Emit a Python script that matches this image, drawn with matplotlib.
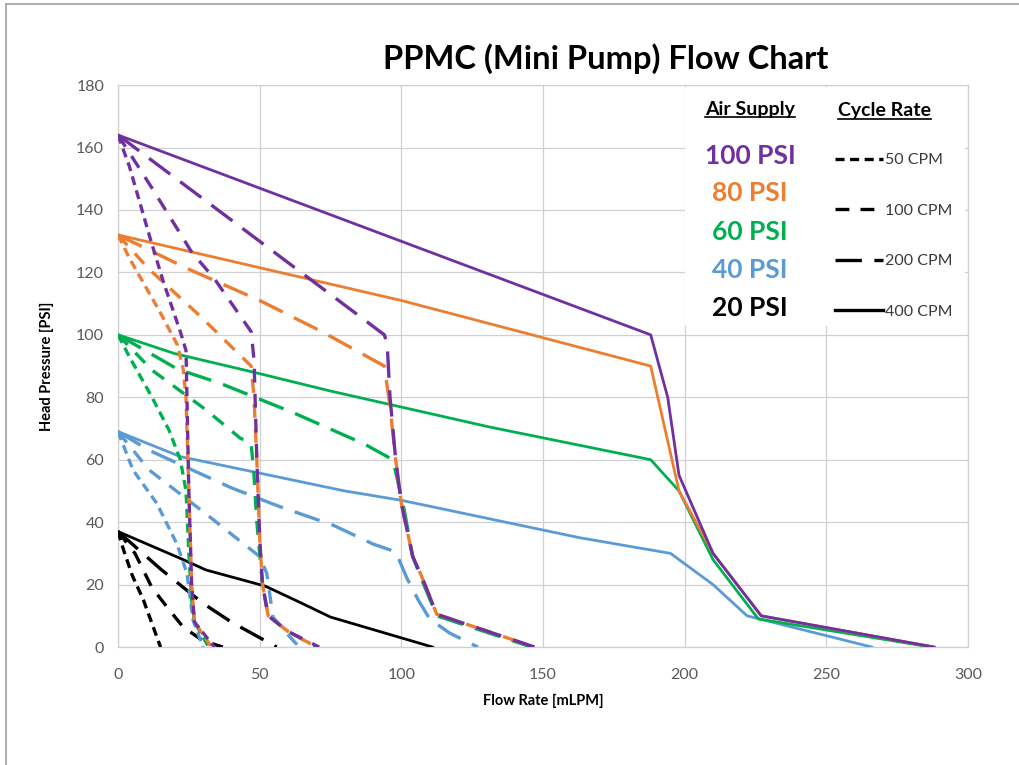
import matplotlib
matplotlib.use("Agg")
import matplotlib.pyplot as plt
from matplotlib.lines import Line2D
from matplotlib.patches import Rectangle

plt.rcParams['font.family'] = ['Lato', 'DejaVu Sans']
plt.rcParams['lines.scale_dashes'] = False

# ---- data (flow mLPM, head PSI) ----
# 100 PSI
p100_50_x = [0, 4, 11, 16, 22, 24, 25, 26, 27, 34]
p100_50_y = [164, 154, 132, 117, 101, 95, 50, 20, 8, 0]
p100_100_x = [0, 12, 26, 34, 47, 48, 49, 50, 51, 53, 60, 71]
p100_100_y = [164, 147, 126.5, 118, 101, 92, 60, 35, 20, 10, 5, 0]
p100_200_x = [0, 94, 95, 96, 98, 100, 104, 107, 112.5, 147]
p100_200_y = [164, 100, 97, 80, 60, 46, 29, 23, 10.5, 0]
p100_400_x = [0, 188, 194, 198, 210, 227, 288]
p100_400_y = [164, 100, 80, 55, 30, 10, 0]

# 80 PSI
p80_50_x = [0, 4, 15, 21, 23, 24, 25, 26, 27, 33]
p80_50_y = [132, 124.6, 107, 96.7, 89, 80, 50, 20, 8, 0]
p80_100_x = [0, 11, 29, 47, 48, 49, 50, 51, 53, 60, 70]
p80_100_y = [132, 121, 106, 90, 80, 60, 35, 20, 10, 5, 0]
p80_200_x = [0, 25, 50, 72, 94, 96, 98, 100, 104, 107, 112.5, 147]
p80_200_y = [132, 121, 111, 101, 90, 77, 60, 46, 29, 23, 10.5, 0]
p80_400_x = [0, 100, 188, 198, 210, 227, 288]
p80_400_y = [132, 111, 90, 50, 30, 10, 0]

# 60 PSI
p60_50_x = [0, 4, 12, 18, 22, 24, 25, 26, 27, 32]
p60_50_y = [100, 93, 80, 69.5, 60, 50, 30, 15, 8, 0]
p60_100_x = [0, 12, 31, 43, 47, 48, 49, 50, 51, 53, 60, 70]
p60_100_y = [100, 88.7, 76, 67, 65, 55, 40, 30, 20, 10, 5, 0]
p60_200_x = [0, 21, 36, 62, 87, 97, 99, 101, 104, 107, 112.5, 146]
p60_200_y = [100, 89, 84.5, 75, 65, 60, 52, 44, 29, 22, 10, 0]
p60_400_x = [0, 20, 48, 75, 131, 188, 198, 210, 226, 287]
p60_400_y = [100, 94, 88, 82, 70.5, 60, 50, 28, 9, 0]

# 40 PSI
p40_50_x = [0, 5.3, 13.7, 20.8, 24.3, 26.5, 30]
p40_50_y = [69, 56.7, 46, 33, 23.7, 8.6, 0]
p40_100_x = [0, 11, 22, 32.5, 43, 50, 52.5, 54.7, 60.7, 64]
p40_100_y = [69, 56.7, 49, 41.6, 34, 29, 23.6, 9.6, 3.2, 0]
p40_200_x = [0, 11, 40, 57, 76, 90, 98, 102, 106, 110, 117, 127]
p40_200_y = [69, 63, 51, 45, 39, 33, 30.5, 22, 15, 9, 4.5, 0]
p40_400_x = [0, 22, 50, 80, 100, 163, 195, 210, 222, 266]
p40_400_y = [69, 61, 55.7, 50, 47, 35, 30, 20, 10, 0]

# 20 PSI
p20_50_x = [0, 2, 5, 9, 15]
p20_50_y = [37, 31, 23, 15, 0]
p20_100_x = [0, 6, 12, 18, 23, 30, 37]
p20_100_y = [37, 30, 19, 12, 6.4, 2, 0]
p20_200_x = [0, 15, 30, 40, 56]
p20_200_y = [37, 25, 14, 8, 0]
p20_400_x = [0, 23, 31, 52, 64, 75, 111]
p20_400_y = [37, 28, 24.7, 19.5, 14.4, 9.6, 0]

pressures = ['20 PSI', '40 PSI', '60 PSI', '80 PSI', '100 PSI']
colors = ['#000000', '#5B9BD5', '#00B050', '#ED7D31', '#7030A0']
rates = ['50 CPM', '100 CPM', '200 CPM', '400 CPM']

curves = [
    [(p20_50_x, p20_50_y), (p20_100_x, p20_100_y), (p20_200_x, p20_200_y), (p20_400_x, p20_400_y)],
    [(p40_50_x, p40_50_y), (p40_100_x, p40_100_y), (p40_200_x, p40_200_y), (p40_400_x, p40_400_y)],
    [(p60_50_x, p60_50_y), (p60_100_x, p60_100_y), (p60_200_x, p60_200_y), (p60_400_x, p60_400_y)],
    [(p80_50_x, p80_50_y), (p80_100_x, p80_100_y), (p80_200_x, p80_200_y), (p80_400_x, p80_400_y)],
    [(p100_50_x, p100_50_y), (p100_100_x, p100_100_y), (p100_200_x, p100_200_y), (p100_400_x, p100_400_y)],
]

# line style per cycle rate (dash on/off in points)
styles = [(0, (6.5, 4)), (0, (10, 8)), (0, (19, 9)), '-']
widths = [2.4, 2.4, 2.4, 2.0]

fig = plt.figure(figsize=(10.19, 7.65), dpi=100)
ax = fig.add_axes([0.1158, 0.1542, 0.8342, 0.7346])

for color, group in zip(colors, curves):
    for (x, y), ls, lw in zip(group, styles, widths):
        ax.plot(x, y, color=color, linestyle=ls, linewidth=lw, zorder=3)

ax.set_xlim(0, 300)
ax.set_ylim(0, 180)
ax.set_xticks(range(0, 301, 50))
ax.set_yticks(range(0, 181, 20))
ax.set_axisbelow(True)
ax.grid(True, color='#d0d0d0', linewidth=0.9)
for s in ax.spines.values():
    s.set_color('#d0d0d0')
    s.set_linewidth(0.9)
ax.tick_params(length=0, labelsize=11.5, labelcolor='#595959')
ax.tick_params(axis='x', pad=15)
ax.tick_params(axis='y', pad=10)

ax.set_xlabel('Flow Rate [mLPM]', fontsize=10.5, fontweight='bold', labelpad=9)
ax.set_ylabel('Head Pressure [PSI]', fontsize=10.5, fontweight='bold', labelpad=16)

fig.text(0.594, 0.924, 'PPMC (Mini Pump) Flow Chart', ha='center', va='center',
         fontsize=23.5, fontweight='bold')

# white legend area
ax.add_patch(Rectangle((0.667, 0.572), 0.33, 0.425, transform=ax.transAxes,
                       facecolor='white', edgecolor='none', zorder=1))

# air supply labels
label_y = [0.603, 0.671, 0.738, 0.808, 0.874]
for name, color, yy in zip(pressures, colors, label_y):
    ax.text(0.7435, yy, name, transform=ax.transAxes, ha='center', va='center',
            color=color, fontsize=19, fontweight='bold', zorder=4)

h1 = ax.text(0.7435, 0.957, 'Air Supply', transform=ax.transAxes, ha='center',
             va='center', fontsize=14, fontweight='bold', zorder=4)
h2 = ax.text(0.902, 0.954, 'Cycle Rate', transform=ax.transAxes, ha='center',
             va='center', fontsize=14, fontweight='bold', zorder=4)

# cycle rate legend
handles = [Line2D([], [], color='black', linestyle=ls, linewidth=2.4) for ls in styles]
leg = ax.legend(handles, rates, loc='upper left', bbox_to_anchor=(0.8435, 0.879),
                frameon=False, fontsize=11.5, handlelength=3.0, handletextpad=0.15,
                labelspacing=2.27, borderaxespad=0, borderpad=0)
for t in leg.get_texts():
    t.set_color('#3a3a3a')

# underline the headers
fig.canvas.draw()
renderer = fig.canvas.get_renderer()
inv = fig.transFigure.inverted()
for h in (h1, h2):
    bb = h.get_window_extent(renderer)
    (x0, y0), (x1, _) = inv.transform([(bb.x0, bb.y0), (bb.x1, bb.y1)])
    fig.add_artist(Line2D([x0, x1], [y0 + 0.001, y0 + 0.001], color='black',
                          linewidth=1.2, transform=fig.transFigure))

# outer border of the picture
fig.add_artist(Line2D([0.006, 0.006], [0, 0.995], color='#a0a0a0', linewidth=1.2,
                      transform=fig.transFigure))
fig.add_artist(Line2D([0.006, 1], [0.995, 0.995], color='#a0a0a0', linewidth=1.2,
                      transform=fig.transFigure))

fig.savefig('out.png', dpi=100)
